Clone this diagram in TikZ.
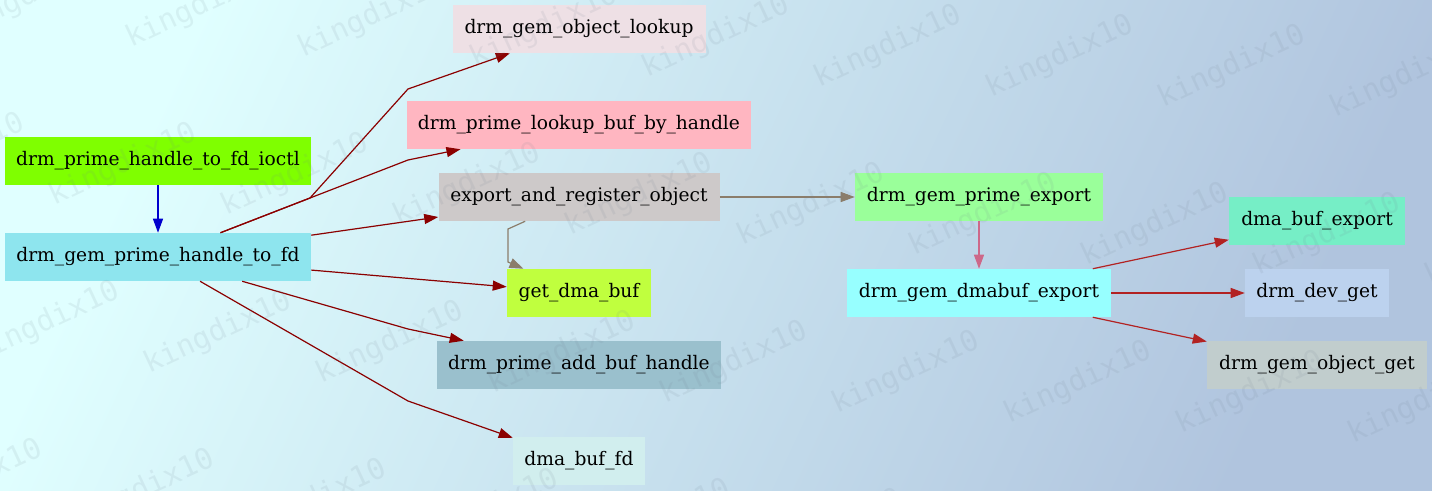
\documentclass[tikz,border=0pt]{standalone}
\usepackage{fontspec}
\newfontfamily\dvs{DejaVu Serif}
\newfontfamily\dvm{DejaVu Sans Mono}
\usetikzlibrary{arrows.meta}
\definecolor{bgleft}{HTML}{E0FFFF}
\definecolor{bgright}{HTML}{B0C4DE}
\definecolor{cIoctl}{HTML}{7FFF00}
\definecolor{cHfd}{HTML}{8EE5EE}
\definecolor{cLookup}{HTML}{EEE0E5}
\definecolor{cLbuf}{HTML}{FFB6C1}
\definecolor{cEar}{HTML}{CDC9C9}
\definecolor{cGdb}{HTML}{C0FF3E}
\definecolor{cAbh}{HTML}{9AC0CD}
\definecolor{cDbf}{HTML}{D1EEEE}
\definecolor{cGpe}{HTML}{9AFF9A}
\definecolor{cGde}{HTML}{97FFFF}
\definecolor{cDbe}{HTML}{76EEC6}
\definecolor{cDdg}{HTML}{BCD2EE}
\definecolor{cGog}{HTML}{C1CDCD}
\definecolor{eBlue}{HTML}{0000CD}
\definecolor{eDred}{HTML}{8B0000}
\definecolor{eBisq}{HTML}{8B7D6B}
\definecolor{ePvr}{HTML}{CD6889}
\definecolor{eFire}{HTML}{B22222}
\definecolor{wmcol}{HTML}{708090}
\begin{document}
\begin{tikzpicture}[x=0.75pt,y=-0.75pt,
  fn/.style={draw=none, inner sep=0pt, minimum height=36pt,
    font=\dvs\fontsize{14pt}{16pt}\selectfont, text=black},
  edge/.style={line width=0.9pt, -{Triangle[length=10.5pt,width=7.5pt]}},
  wm/.style={font=\dvm\fontsize{22pt}{24pt}\selectfont, text=wmcol,
    text opacity=0.11, rotate=25, inner sep=0pt}]
\useasboundingbox (0,0) rectangle (1432,491);
\shade[left color=bgleft, right color=bgright, shading angle=65] (0,0) rectangle (1432,491);

% nodes
\node[fn, fill=cIoctl,  minimum width=229.5pt] (ioctl)  at (158,161) {drm\_prime\_handle\_to\_fd\_ioctl};
\node[fn, fill=cHfd,    minimum width=229.5pt] (hfd)    at (158,257) {drm\_gem\_prime\_handle\_to\_fd};
\node[fn, fill=cLookup, minimum width=189.75pt] (lookup) at (579,29)  {drm\_gem\_object\_lookup};
\node[fn, fill=cLbuf,   minimum width=258pt]   (lbuf)   at (579,125) {drm\_prime\_lookup\_buf\_by\_handle};
\node[fn, fill=cEar,    minimum width=210.75pt] (ear)   at (579,197) {export\_and\_register\_object};
\node[fn, fill=cGdb,    minimum width=108pt]   (gdb)    at (579,293) {get\_dma\_buf};
\node[fn, fill=cAbh,    minimum width=213pt]   (abh)    at (579,365) {drm\_prime\_add\_buf\_handle};
\node[fn, fill=cDbf,    minimum width=99pt]    (dbf)    at (579,461) {dma\_buf\_fd};
\node[fn, fill=cGpe,    minimum width=186pt]   (gpe)    at (979,197) {drm\_gem\_prime\_export};
\node[fn, fill=cGde,    minimum width=198pt]   (gde)    at (979,293) {drm\_gem\_dmabuf\_export};
\node[fn, fill=cDbe,    minimum width=132pt]   (dbe)    at (1317,221) {dma\_buf\_export};
\node[fn, fill=cDdg,    minimum width=108pt]   (ddg)    at (1317,293) {drm\_dev\_get};
\node[fn, fill=cGog,    minimum width=165pt]   (gog)    at (1317,365) {drm\_gem\_object\_get};

% bend points
\coordinate (p1) at (310,198);
\coordinate (p2) at (408,89);
\coordinate (p3) at (408,160);
\coordinate (p4) at (408,329);
\coordinate (p5) at (408,401);
\coordinate (p6) at (508,229);
\coordinate (p7) at (508,262);

% edges
\draw[edge, eBlue] (ioctl) -- (hfd);
\draw[edge, eDred] (hfd) -- (p1) -- (p2) -- (lookup);
\draw[edge, eDred] (hfd) -- (p3) -- (lbuf);
\draw[edge, eDred] (hfd) -- (ear);
\draw[edge, eDred] (hfd) -- (gdb);
\draw[edge, eDred] (hfd) -- (p4) -- (abh);
\draw[edge, eDred] (hfd) -- (p5) -- (dbf);
\draw[edge, eBisq] (ear) -- (p6) -- (p7) -- (gdb);
\draw[edge, eBisq] (ear) -- (gpe);
\draw[edge, ePvr] (gpe) -- (gde);
\draw[edge, eFire] (gde) -- (dbe);
\draw[edge, eFire] (gde) -- (ddg);
\draw[edge, eFire] (gde) -- (gog);

% watermark
\begin{scope}
\clip (0,0) rectangle (1432,491);
\foreach \j in {0,...,3}{
  \foreach \i in {-5,...,9}{
    \pgfmathsetmacro\cx{716+172*\i-77*\j}
    \pgfmathsetmacro\cy{37+10*\i+158*\j}
    \node[wm] (wm\i x\j) at (\cx,\cy) {kingdix10};
  }
}
\end{scope}
\end{tikzpicture}
\end{document}
